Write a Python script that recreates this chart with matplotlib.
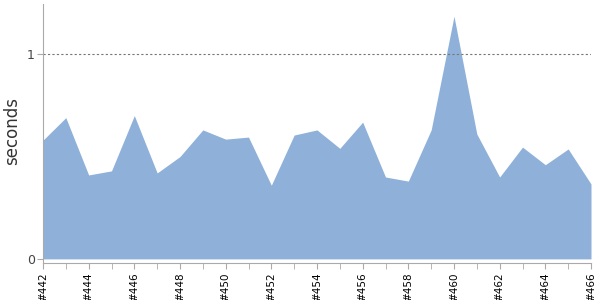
import numpy as np
import matplotlib.pyplot as plt

builds = np.arange(442, 467)
seconds = [0.58, 0.69, 0.41, 0.43, 0.70, 0.42, 0.50, 0.63, 0.585, 0.595,
           0.36, 0.605, 0.63, 0.54, 0.668, 0.40, 0.38, 0.63, 1.185, 0.61,
           0.40, 0.546, 0.46, 0.537, 0.366]
tick_builds = builds[::2]
tick_labels = ['#%d' % b for b in tick_builds]

fig = plt.figure(figsize=(6, 3), dpi=100)
ax = fig.add_axes([43 / 600, 1 - 263 / 300, 548 / 600, 259 / 300])

ax.fill_between(builds, seconds, 0, color='#8fb1d9', linewidth=0)
ax.axhline(1, color='#777777', linestyle=(0, (2, 2)), linewidth=0.8)

ax.set_xlim(442, 466)
ax.set_ylim(-0.02, 1.245)

ax.set_xticks(tick_builds)
ax.set_xticklabels(tick_labels, rotation=90, fontsize=7.5)
ax.set_xticks(builds, minor=True)
ax.set_yticks([0, 1])
ax.set_yticklabels(['0', '1'], fontsize=9, color='#444444')
ax.tick_params(axis='x', which='both', length=4, color='#aaaaaa', pad=3)
ax.tick_params(axis='y', length=4, color='#aaaaaa', pad=2)

for side in ['top', 'right']:
    ax.spines[side].set_visible(False)
for side in ['left', 'bottom']:
    ax.spines[side].set_color('#aaaaaa')

ax.set_ylabel('seconds', fontsize=12, color='#333333')
ax.yaxis.set_label_coords(-0.04, 0.51)

fig.savefig('out.png', dpi=100)
